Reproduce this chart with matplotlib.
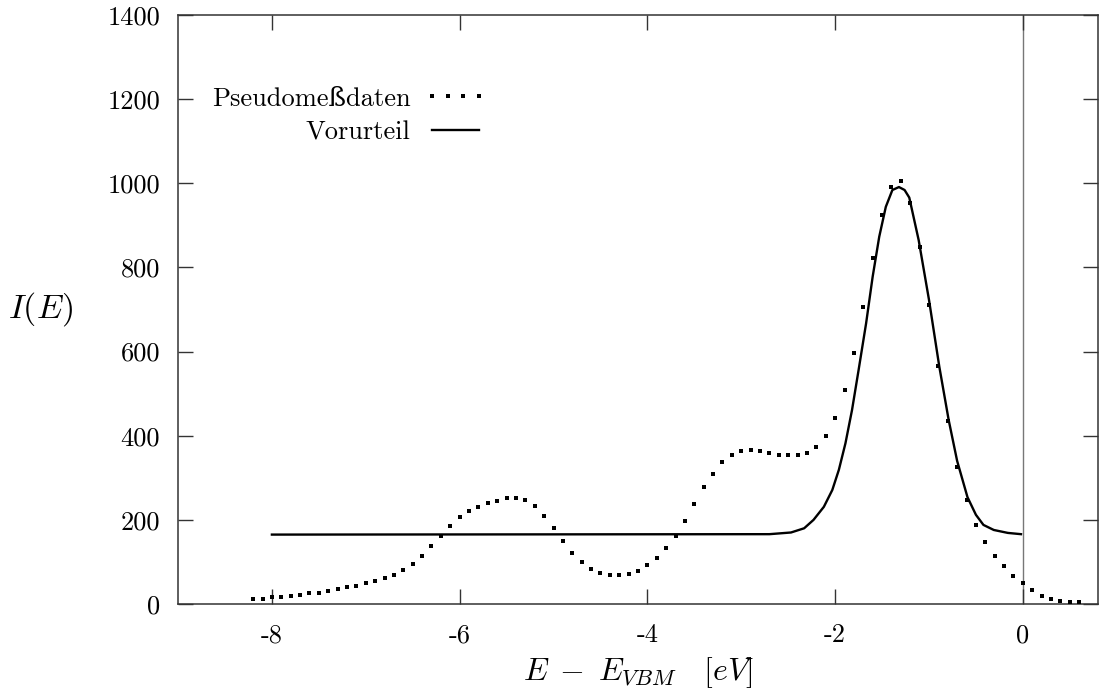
import matplotlib
matplotlib.use("Agg")
import matplotlib.pyplot as plt

plt.rcParams['font.family'] = ['cmr10', 'DejaVu Serif']
plt.rcParams['mathtext.fontset'] = 'cm'
plt.rcParams['axes.unicode_minus'] = False
plt.rcParams['axes.formatter.use_mathtext'] = True

# Pseudomessdaten (dots), 0.1 eV grid
e_data = [-8.2, -8.1, -8.0, -7.9, -7.8, -7.7, -7.6, -7.5, -7.4, -7.3,
          -7.2, -7.1, -7.0, -6.9, -6.8, -6.7, -6.6, -6.5, -6.4, -6.3,
          -6.2, -6.1, -6.0, -5.9, -5.8, -5.7, -5.6, -5.5, -5.4, -5.3,
          -5.2, -5.1, -5.0, -4.9, -4.8, -4.7, -4.6, -4.5, -4.4, -4.3,
          -4.2, -4.1, -4.0, -3.9, -3.8, -3.7, -3.6, -3.5, -3.4, -3.3,
          -3.2, -3.1, -3.0, -2.9, -2.8, -2.7, -2.6, -2.5, -2.4, -2.3,
          -2.2, -2.1, -2.0, -1.9, -1.8, -1.7, -1.6, -1.5, -1.4, -1.3,
          -1.2, -1.1, -1.0, -0.9, -0.8, -0.7, -0.6, -0.5, -0.4, -0.3,
          -0.2, -0.1, 0.0, 0.1, 0.2, 0.3, 0.4, 0.5, 0.6]
i_data = [11, 12, 17, 17, 20, 22, 27, 27, 32, 36,
          41, 44, 49, 55, 62, 70, 82, 96, 115, 139,
          162, 186, 206, 222, 231, 241, 246, 253, 253, 248,
          234, 210, 181, 149, 122, 101, 84, 74, 70, 70,
          72, 79, 92, 109, 132, 161, 198, 238, 279, 310,
          338, 355, 364, 367, 364, 360, 355, 353, 353, 358,
          372, 399, 443, 509, 597, 707, 822, 925, 992, 1005,
          954, 849, 711, 566, 435, 326, 247, 187, 147, 115,
          90, 67, 49, 34, 20, 13, 8, 4, 4]

# Vorurteil (solid line)
e_prior = [-8.0, -2.7, -2.47, -2.33, -2.23, -2.12, -2.03, -1.96, -1.89, -1.82,
           -1.75, -1.67, -1.60, -1.53, -1.46, -1.39, -1.32, -1.26, -1.21, -1.11,
           -1.00, -0.89, -0.79, -0.70, -0.59, -0.50, -0.42, -0.31, -0.16, -0.02]
i_prior = [165, 166, 170, 180, 200, 231, 271, 319, 382, 461,
           556, 667, 778, 873, 944, 984, 991, 984, 966, 865,
           723, 564, 437, 340, 254, 212, 188, 176, 169, 166]

xticks = [-8, -6, -4, -2, 0]
yticks = [0, 200, 400, 600, 800, 1000, 1200, 1400]

fs = 19
fig = plt.figure(figsize=(11.14, 6.93), dpi=100)
ax = fig.add_axes([0.1598, 0.1284, 0.8258, 0.85])

ax.axvline(0, color='#777777', lw=1.0, zorder=1)
ax.plot(e_data, i_data, ls='none', marker='s', ms=2.4, mew=0, color='black',
        label='Pseudomeßdaten', zorder=3)
ax.plot(e_prior, i_prior, color='black', lw=1.7, label='Vorurteil', zorder=2)

ax.set_xlim(-9, 0.8)
ax.set_ylim(0, 1400)
ax.set_xticks(xticks)
ax.set_xticklabels([str(t) for t in xticks])
ax.set_yticks(yticks)
ax.set_yticklabels([str(t) for t in yticks])
ax.tick_params(direction='in', length=11, width=1, top=True, right=True,
               labelsize=fs, color='#333333')
ax.tick_params(axis='x', pad=14)
ax.tick_params(axis='y', pad=13)
for s in ax.spines.values():
    s.set_color('#333333')
    s.set_linewidth(1.1)

ax.set_xlabel(r'$E\; - \;E_{VBM} \quad [eV]$', fontsize=23)
ax.xaxis.set_label_coords(0.5, -0.087)
ax.set_ylabel(r'$I(E)$', fontsize=24.5, rotation=0, va='center', ha='center')
ax.yaxis.set_label_coords(-0.149, 0.5)

leg = ax.legend(loc='upper right', bbox_to_anchor=(0.336, 0.878), frameon=False,
                markerfirst=False, fontsize=fs, numpoints=4, handlelength=2.4,
                borderpad=0, borderaxespad=0, handletextpad=0.5, labelspacing=0.38)

fig.savefig('out.png', dpi=100)
